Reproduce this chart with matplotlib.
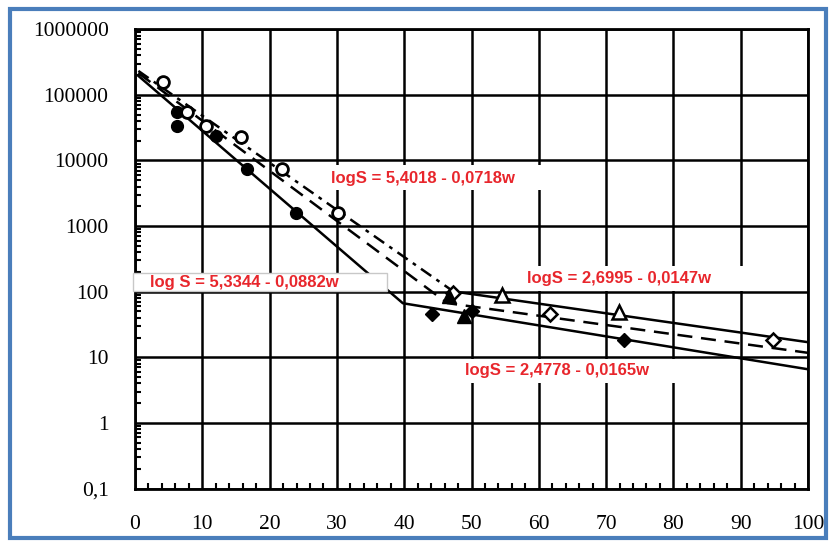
import matplotlib
matplotlib.use("Agg")
import matplotlib.pyplot as plt
from matplotlib.patches import Rectangle
from matplotlib.ticker import FixedLocator, FixedFormatter, MultipleLocator, LogLocator, NullFormatter

# ---------------- data ----------------
# filled circles
fc_w = [6.2, 6.2, 12.1, 16.6, 23.9]
fc_S = [55000, 33000, 23700, 7350, 1570]
# open circles
oc_w = [4.2, 7.8, 10.5, 15.7, 21.8, 30.1]
oc_S = [160000, 55000, 33600, 23000, 7400, 1570]
# filled diamonds
fd_w = [44.1, 50.0, 72.6]
fd_S = [46, 51, 18.4]
# open diamonds
od_w = [47.3, 61.7, 94.8]
od_S = [95, 46, 18.4]
# filled triangles
ft_w = [46.6, 48.9]
ft_S = [87, 42]
# open triangles
ot_w = [54.5, 71.9]
ot_S = [88, 49]

# fitted lines (breakpoints)
lower_w = [0.5, 39.8, 100]
lower_S = [195000, 66.7, 6.57]
upper_steep_w = [0.5, 47.3]
upper_steep_S = [232000, 101]
upper_flat_w = [47.3, 100]
upper_flat_S = [101, 17.0]
mid_w = [0.5, 46.4, 100]
mid_S = [215000, 67, 11.7]

x_ticks = [0, 10, 20, 30, 40, 50, 60, 70, 80, 90, 100]
x_labels = ['0', '10', '20', '30', '40', '50', '60', '70', '80', '90', '100']
y_ticks = [0.1, 1, 10, 100, 1000, 10000, 100000, 1000000]
y_labels = ['0,1', '1', '10', '100', '1000', '10000', '100000', '1000000']

eq_texts = ['logS = 5,4018 - 0,0718w', 'log S = 5,3344 - 0,0882w',
            'logS = 2,6995 - 0,0147w', 'logS = 2,4778 - 0,0165w']

# ---------------- figure ----------------
W, H = 834, 543
fig = plt.figure(figsize=(W / 100, H / 100), dpi=100)
fig.patch.set_facecolor('white')

x0, x1 = 135, 808
y0, y1 = 29.3, 488.5
ax = fig.add_axes([x0 / W, 1 - y1 / H, (x1 - x0) / W, (y1 - y0) / H])
ax.set_yscale('log')
ax.set_xlim(0, 100)
ax.set_ylim(0.1, 1000000)

ax.xaxis.set_major_locator(FixedLocator(x_ticks))
ax.xaxis.set_major_formatter(FixedFormatter(x_labels))
ax.yaxis.set_major_locator(FixedLocator(y_ticks))
ax.yaxis.set_major_formatter(FixedFormatter(y_labels))
ax.xaxis.set_minor_locator(MultipleLocator(2))
ax.yaxis.set_minor_locator(LogLocator(base=10, subs=[2, 3, 4, 5, 6, 7, 8, 9], numticks=20))
ax.yaxis.set_minor_formatter(NullFormatter())

ax.grid(True, which='major', color='black', linewidth=1.8, zorder=0.5)
ax.set_axisbelow(True)
for s in ax.spines.values():
    s.set_linewidth(2.0)
    s.set_color('black')

ax.tick_params(which='major', length=0, direction='in')
ax.tick_params(axis='x', which='major', pad=19)
ax.tick_params(axis='y', which='major', pad=19)
ax.tick_params(which='minor', direction='in', length=4.5, width=1.5, color='black',
               top=False, right=False)
for lab in ax.get_xticklabels() + ax.get_yticklabels():
    lab.set_fontfamily('Liberation Serif')
    lab.set_fontsize(15.5)

# lines
lw = 1.8
ax.plot(lower_w, lower_S, color='black', lw=lw, zorder=2)
ax.plot(upper_steep_w, upper_steep_S, color='black', lw=lw, zorder=2,
        dashes=(5, 2.5, 1.5, 2.5))
ax.plot(upper_flat_w, upper_flat_S, color='black', lw=lw, zorder=2)
ax.plot(mid_w, mid_S, color='black', lw=lw, zorder=2, dashes=(6, 3.5))

# markers
ax.plot(fc_w, fc_S, 'o', ms=8.5, mfc='black', mec='black', ls='none', zorder=4)
ax.plot(oc_w, oc_S, 'o', ms=8.5, mfc='white', mec='black', mew=2, ls='none', zorder=4)
ax.plot(fd_w, fd_S, 'D', ms=7.5, mfc='black', mec='black', ls='none', zorder=4)
ax.plot(od_w, od_S, 'D', ms=7.5, mfc='white', mec='black', mew=1.8, ls='none', zorder=4)
ax.plot(ft_w, ft_S, '^', ms=10, mfc='black', mec='black', ls='none', zorder=4)
ax.plot(ot_w, ot_S, '^', ms=10, mfc='white', mec='black', mew=1.8, ls='none', zorder=4)

# white label boxes (in pixel space -> axes fraction)
def box(px_l, px_r, py_t, py_b, edge='none'):
    fx = (px_l - x0) / (x1 - x0)
    fw = (px_r - px_l) / (x1 - x0)
    fy = (y1 - py_b) / (y1 - y0)
    fh = (py_b - py_t) / (y1 - y0)
    r = Rectangle((fx, fy), fw, fh, transform=ax.transAxes, facecolor='white',
                  edgecolor=edge, linewidth=1.0, zorder=3, clip_on=False)
    ax.add_patch(r)

box(318, 555, 165, 190)
box(133, 387, 273, 291.5, edge='#c8c8c8')
box(515, 795, 266, 291.5)
box(455, 690, 359, 383)

red = '#e8262c'
def label(txt, cx, cy):
    fig.text(cx / W, 1 - cy / H, txt, color=red, fontsize=12, fontweight='bold',
             family='Liberation Sans', ha='center', va='center', zorder=6)

label(eq_texts[0], 423, 178)
label(eq_texts[1], 244, 282)
label(eq_texts[2], 619, 279)
label(eq_texts[3], 557, 370)

# blue frame around the image
fig.patches.append(Rectangle((9.5 / W, 1 - 538 / H), (826 - 9.5) / W, (538 - 9) / H,
                             transform=fig.transFigure, facecolor='none',
                             edgecolor='#4a7ebb', linewidth=3.0, zorder=10))

fig.savefig('out.png', dpi=100)
